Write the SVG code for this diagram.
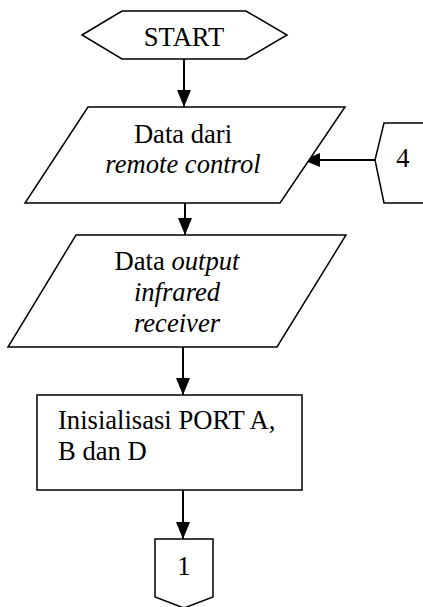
<svg xmlns="http://www.w3.org/2000/svg" width="423" height="607" viewBox="0 0 423 607">
  <style>
    .shape { fill: #ffffff; stroke: #000000; stroke-width: 1.5; stroke-linejoin: miter; }
    .flow { fill: none; stroke: #000000; stroke-width: 2; marker-end: url(#arrow); }
    .mid { text-anchor: middle; }
    .it { font-style: italic; }
  </style>
  <defs>
    <marker id="arrow" markerUnits="userSpaceOnUse" markerWidth="17" markerHeight="14" refX="17" refY="7" orient="auto">
      <path d="M0,0 L17,7 L0,14 Z" fill="#000000"/>
    </marker>
  </defs>
  <rect width="423" height="607" fill="#ffffff"/>

  <!-- connectors -->
  <g id="connectors">
    <line class="flow" x1="184" y1="59" x2="184" y2="107"/>
    <line class="flow" x1="375" y1="160" x2="303" y2="160"/>
    <line class="flow" x1="185" y1="203" x2="185" y2="235"/>
    <line class="flow" x1="183" y1="347" x2="183" y2="395"/>
    <line class="flow" x1="183" y1="490" x2="183" y2="539"/>
  </g>

  <g font-family="'Liberation Serif', 'DejaVu Serif', 'Times New Roman', serif" font-size="26.6" fill="#000000">
    <!-- terminator -->
    <g id="start">
      <polygon class="shape" points="82,35 122,11 246,11 287,35 246,59 122,59"/>
      <text class="mid" x="184" y="46">START</text>
    </g>

    <!-- input: remote control -->
    <g id="input-remote">
      <polygon class="shape" points="88,107 345,107 280,203 25,203"/>
      <text class="mid" x="183" y="143">Data dari</text>
      <text class="mid it" x="183" y="173">remote control</text>
    </g>

    <!-- off-page connector 4 -->
    <g id="connector-4">
      <polygon class="shape" points="375,160 384,123 430,123 430,203 384,203"/>
      <text class="mid" x="403" y="167">4</text>
    </g>

    <!-- input: infrared receiver output -->
    <g id="input-ir">
      <polygon class="shape" points="76,235 346,235 277,347 8,347"/>
      <text class="mid" x="177" y="270">Data <tspan class="it">output</tspan></text>
      <text class="mid it" x="177" y="301">infrared</text>
      <text class="mid it" x="177" y="332">receiver</text>
    </g>

    <!-- process: port initialisation -->
    <g id="init-ports">
      <rect class="shape" x="37" y="395" width="265" height="95"/>
      <text x="58" y="429">Inisialisasi PORT A,</text>
      <text x="58" y="460">B dan D</text>
    </g>

    <!-- off-page connector 1 -->
    <g id="connector-1">
      <polygon class="shape" points="155,539 213,539 213,597 184,608 155,597"/>
      <text class="mid" x="184" y="575">1</text>
    </g>
  </g>
</svg>
